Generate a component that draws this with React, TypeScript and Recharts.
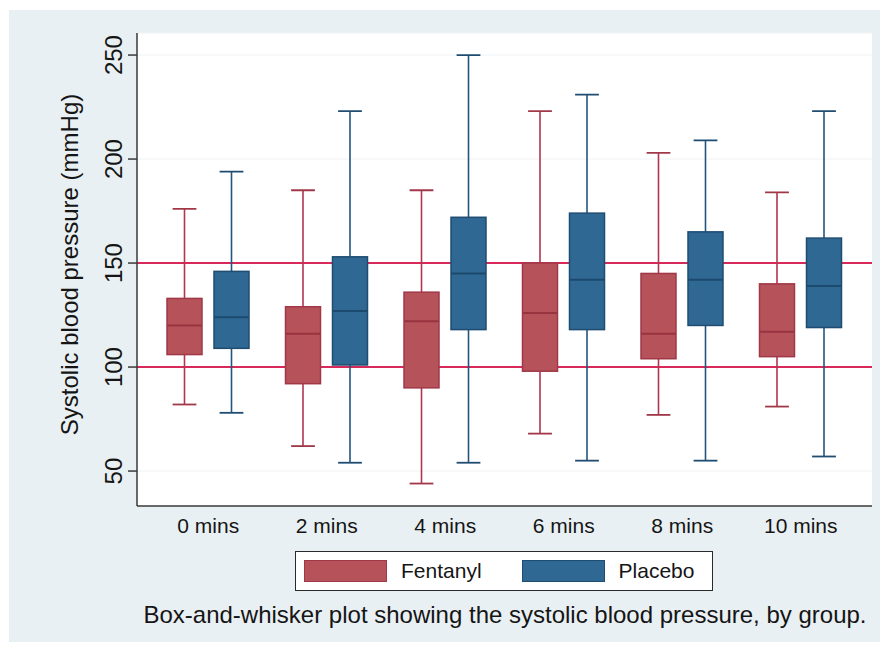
import { Bar, BarChart, CartesianGrid, Legend, ReferenceLine, XAxis, YAxis } from "recharts"

const times = ["0 mins", "2 mins", "4 mins", "6 mins", "8 mins", "10 mins"]

// five-number summaries, one entry per time point
const fentanylMin = [82, 62, 44, 68, 77, 81]
const fentanylQ1 = [106, 92, 90, 98, 104, 105]
const fentanylMedian = [120, 116, 122, 126, 116, 117]
const fentanylQ3 = [133, 129, 136, 150, 145, 140]
const fentanylMax = [176, 185, 185, 223, 203, 184]

const placeboMin = [78, 54, 54, 55, 55, 57]
const placeboQ1 = [109, 101, 118, 118, 120, 119]
const placeboMedian = [124, 127, 145, 142, 142, 139]
const placeboQ3 = [146, 153, 172, 174, 165, 162]
const placeboMax = [194, 223, 250, 231, 209, 223]

const yTicks = [50, 100, 150, 200, 250]
const normalLimits = [100, 150]

const FONT = "'Liberation Sans', Arial, Helvetica, sans-serif"

const RED = { fill: "#b6525a", stroke: "#a03848", whisker: "#b03650", median: "#983440" }
const BLUE = { fill: "#2f6893", stroke: "#1f4d72", whisker: "#24557d", median: "#1c4a6e" }

const data = times.map((time, i) => ({
  time,
  fentanyl: { min: fentanylMin[i], q1: fentanylQ1[i], median: fentanylMedian[i], q3: fentanylQ3[i], max: fentanylMax[i] },
  placebo: { min: placeboMin[i], q1: placeboQ1[i], median: placeboMedian[i], q3: placeboQ3[i], max: placeboMax[i] },
  fentanylBox: [fentanylQ1[i], fentanylQ3[i]],
  placeboBox: [placeboQ1[i], placeboQ3[i]],
}))

function BoxWhisker(props: any) {
  const { x, y, width, height, stats, colors } = props
  if (!stats || height == null) return null
  const top = Math.min(y, y + height)
  const h = Math.abs(height)
  // pixels per unit, taken from the box the bar scale already drew
  const ppu = h / (stats.q3 - stats.q1)
  const py = (v: number) => top + (stats.q3 - v) * ppu
  const cx = x + width / 2
  const cap = width * 0.34
  return (
    <g>
      <line x1={cx} x2={cx} y1={py(stats.max)} y2={top} stroke={colors.whisker} strokeWidth={1.6} />
      <line x1={cx} x2={cx} y1={top + h} y2={py(stats.min)} stroke={colors.whisker} strokeWidth={1.6} />
      <line x1={cx - cap} x2={cx + cap} y1={py(stats.max)} y2={py(stats.max)} stroke={colors.stroke} strokeWidth={1.8} />
      <line x1={cx - cap} x2={cx + cap} y1={py(stats.min)} y2={py(stats.min)} stroke={colors.stroke} strokeWidth={1.8} />
      <rect x={x} y={top} width={width} height={h} fill={colors.fill} stroke={colors.stroke} strokeWidth={1.5} />
      <line x1={x} x2={x + width} y1={py(stats.median)} y2={py(stats.median)} stroke={colors.median} strokeWidth={2} />
    </g>
  )
}

function XTick({ x, y, payload }: any) {
  return (
    <text x={x} y={y + 15} textAnchor="middle" fontSize={21} fontFamily={FONT} fill="#151515">
      {payload.value}
    </text>
  )
}

function YTick({ x, y, payload }: any) {
  return (
    <text x={x} y={y} transform={`rotate(-90, ${x}, ${y})`} textAnchor="middle" fontSize={24} fontFamily={FONT} fill="#151515">
      {payload.value}
    </text>
  )
}

function YTitle(props: any) {
  const vb = props.viewBox || { y: 33, height: 473 }
  const cy = vb.y + vb.height / 2 - 5
  return (
    <text x={78} y={cy} transform={`rotate(-90, 78, ${cy})`} textAnchor="middle" fontSize={24} fontFamily={FONT} fill="#151515">
      Systolic blood pressure (mmHg)
    </text>
  )
}

function LegendBox({ payload }: any) {
  return (
    <div
      style={{
        width: 418,
        height: 40,
        boxSizing: "border-box",
        border: "1.5px solid #2a2a2a",
        background: "#ffffff",
        display: "flex",
        alignItems: "center",
        paddingLeft: 8,
        fontFamily: FONT,
        fontSize: 21,
        color: "#151515",
      }}
    >
      {(payload || []).map((item: any, i: number) => (
        <div key={item.value} style={{ display: "flex", alignItems: "center", marginLeft: i === 0 ? 0 : 40 }}>
          <div
            style={{
              width: 83,
              height: 22,
              boxSizing: "border-box",
              background: item.color,
              border: `1.5px solid ${item.value === "Fentanyl" ? RED.stroke : BLUE.stroke}`,
            }}
          />
          <span style={{ marginLeft: 14 }}>{item.value}</span>
        </div>
      ))}
    </div>
  )
}

export default function App() {
  return (
    <div style={{ position: "absolute", left: 0, top: 0, width: 880, height: 648, overflow: "hidden" }}>
      <div style={{ position: "absolute", left: 9, top: 10, width: 871, height: 632, background: "#e9f0f3" }} />
      <div style={{ position: "absolute", left: 0, top: 0 }}>
        <BarChart
          width={880}
          height={648}
          data={data}
          margin={{ top: 33, right: 8, bottom: 112, left: 77 }}
          barSize={35}
          barGap={12}
        >
          <CartesianGrid fill="#ffffff" vertical={false} stroke="#eef2f4" strokeWidth={1} />
          <XAxis
            dataKey="time"
            height={30}
            padding={{ left: 12, right: 12 }}
            tickLine={false}
            tickSize={0}
            tickMargin={12}
            axisLine={{ stroke: "#3a3a3a", strokeWidth: 1.5 }}
            tick={<XTick />}
            interval={0}
          />
          <YAxis
            type="number"
            width={60}
            domain={[33.2, 260.6]}
            allowDataOverflow
            ticks={yTicks}
            tickSize={9}
            tickMargin={6}
            tickLine={{ stroke: "#3a3a3a", strokeWidth: 1.5 }}
            axisLine={{ stroke: "#3a3a3a", strokeWidth: 1.5 }}
            tick={<YTick />}
            label={(p: any) => <YTitle {...p} />}
          />
          {normalLimits.map((v) => (
            <ReferenceLine key={v} y={v} stroke="#d9295a" strokeWidth={2} zIndex={50} />
          ))}
          <Bar
            dataKey="fentanylBox"
            name="Fentanyl"
            fill={RED.fill}
            isAnimationActive={false}
            shape={(p: any) => <BoxWhisker {...p} stats={p.payload.fentanyl} colors={RED} />}
          />
          <Bar
            dataKey="placeboBox"
            name="Placebo"
            fill={BLUE.fill}
            isAnimationActive={false}
            shape={(p: any) => <BoxWhisker {...p} stats={p.payload.placebo} colors={BLUE} />}
          />
          <Legend
            layout="horizontal"
            verticalAlign="middle"
            align="center"
            wrapperStyle={{ left: 295, top: 551, width: 418, height: 40 }}
            content={(p: any) => <LegendBox {...p} />}
          />
        </BarChart>
      </div>
      <div
        style={{
          position: "absolute",
          left: 142,
          top: 603,
          width: 726,
          textAlign: "center",
          whiteSpace: "nowrap",
          fontFamily: FONT,
          fontSize: 24,
          lineHeight: "24px",
          color: "#151515",
        }}
      >
        Box-and-whisker plot showing the systolic blood pressure, by group.
      </div>
    </div>
  )
}
